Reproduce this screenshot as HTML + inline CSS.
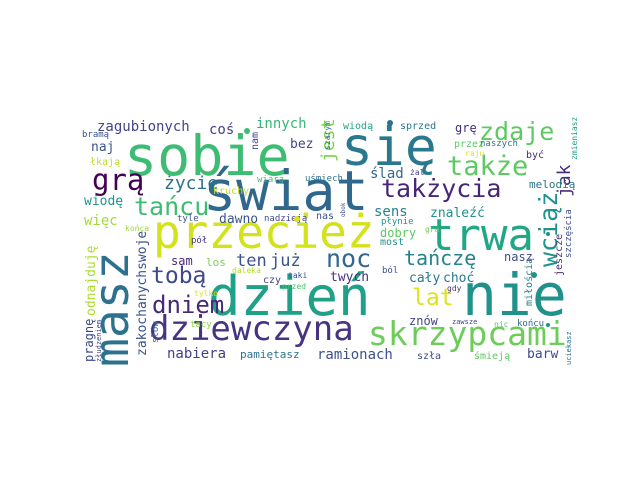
<!DOCTYPE html>
<html><head><meta charset="utf-8"><style>
html,body{margin:0;padding:0;background:#fff}
svg{display:block}
text{font-family:"DejaVu Sans Mono","Liberation Mono",monospace}
</style></head><body>
<svg width="640" height="480">
<rect width="640" height="480" fill="#fff"/>
<g id="words"></g>
</svg>
<script>
const words=[
["sobie",124,175,55,"#3fbc73",0],["się",341,165,53,"#2a788e",0],["świat",203,210,55,"#30678d",0],
["przecież",153,248,46,"#d2e21b",0],["trwa",428,250,44,"#22a785",0],["masz",128,367,48,"#2c728e",1],
["dzień",208,315,54,"#1fa187",0],["nie",462,315,58,"#21918c",0],["dziewczyna",149,340,34,"#463480",0],
["skrzypcami",368,345,33,"#6ccd5a",0],["takżycia",381,197,25,"#482576",0],["także",447,175,27,"#5ec962",0],
["zdaje",479,140,25,"#5ec962",0],["wciąż",557,267,25,"#20928c",1],["jak",570,197,18,"#472d7b",1],
["jest",334,162,18,"#7ad151",1],["grą",92,190,29,"#440154",0],["tańcu",134,215,25,"#3fbc73",0],
["życie",164,189,18,"#2c728e",0],["tobą",151,283,23,"#3e4989",0],["dniem",152,313,24,"#482878",0],
["ten",236,266,17,"#3b528b",0],["już",270,266,17,"#3b528b",0],["noc",326,267,25,"#31688e",0],
["tańczę",404,265,20,"#26828e",0],["lat",412,305,23,"#dde318",0],["zagubionych",97,131,14,"#404688",0],
["innych",256,128,14,"#35b779",0],["coś",209,134,14,"#424086",0],["naj",91,151,13,"#3b528b",0],
["bez",290,148,13,"#3e4a89",0],["łkają",90,165,10,"#bddf26",0],["bramą",82,137,9,"#3b528b",0],
["nam",258,150,10,"#404688",1],["wiarą",257,182,9,"#46c06f",0],["uśmiech",305,181,9,"#2d708e",0],
["kruchy",213,194,10,"#c2df23",0],["wiodę",84,205,13,"#21918c",0],["więc",84,225,14,"#a0da39",0],
["dawno",219,223,13,"#39558c",0],["tyle",177,221,9,"#3b528b",0],["nadzieją",264,221,9,"#3e4a89",0],
["końca",125,231,8,"#9dd93b",0],["odnajduję",95,316,13,"#addc30",1],["zakochanychswoje",146,356,13,"#3b528b",1],
["pragnę",93,362,12,"#3e4989",1],["złudzeniem",101,362,7,"#3e4989",1],["słów",158,343,9,"#2a788e",1],
["tacy",190,327,9,"#8bd646",0],["nabiera",167,358,14,"#424086",0],["pamiętasz",240,358,11,"#2c728e",0],
["ramionach",317,359,14,"#3b528b",0],["sam",171,265,12,"#482878",0],["los",206,266,11,"#7ad151",0],
["pół",191,243,9,"#46327e",0],["daleka",232,273,8,"#b5de2b",0],["czy",263,283,10,"#414487",0],
["taki",288,278,8,"#3e4a89",0],["przed",282,289,8,"#48c16e",0],["tylko",194,296,8,"#dde318",0],
["sens",374,216,14,"#26828e",0],["znaleźć",430,217,13,"#20928c",0],["ślad",370,178,14,"#31688e",0],
["żal",410,175,8,"#404688",0],["melodią",529,188,11,"#2c728e",0],["być",526,158,10,"#472d7b",0],
["raju",465,156,8,"#dde318",0],["przez",454,147,10,"#5ec962",0],["naszych",480,146,9,"#2a788e",0],
["grę",455,132,12,"#472d7b",0],["wiodą",343,129,10,"#20a486",0],["sprzed",400,129,10,"#2a788e",0],
["szarym",330,150,8,"#2c728e",1],["zmieniasz",577,160,8,"#1f9e89",1],["szczęścia",571,258,9,"#3b528b",1],
["jeszcze",562,276,10,"#472d7b",1],["nas",316,219,10,"#3b528b",0],["obok",345,217,6,"#3b528b",1],
["dobry",380,237,12,"#5ec962",0],["płynie",381,224,9,"#21918c",0],["gra",425,232,8,"#6ece58",0],
["most",380,245,10,"#21918c",0],["ból",382,273,9,"#3b528b",0],["twych",330,281,13,"#46337e",0],
["cały",409,282,13,"#2a788e",0],["choć",443,282,13,"#2a788e",0],["gdy",447,291,8,"#46327e",0],
["nasz",504,261,12,"#3e4a89",0],["miłością",532,306,10,"#26828e",1],["znów",409,325,12,"#404688",0],
["zawsze",452,324,7,"#404688",0],["nic",494,327,8,"#5ec962",0],["końcu",517,326,9,"#31688e",0],
["szła",417,359,10,"#3e4989",0],["śmieją",474,359,10,"#5ec962",0],["barw",527,358,13,"#3e4989",0],
["uciekasz",571,365,7,"#2c728e",1]
];
const g=document.getElementById('words');
const NS='http://www.w3.org/2000/svg';
for(const [w,x,y,s,c,r] of words){
  const t=document.createElementNS(NS,'text');
  t.setAttribute('x',x);t.setAttribute('y',y);
  t.setAttribute('font-size',s);t.setAttribute('fill',c);
  if(r)t.setAttribute('transform','rotate(-90 '+x+' '+y+')');
  t.textContent=w;
  
  
  g.appendChild(t);
}
const dots=[[390,123,3,"#2c728e"],[247,131,3,"#3fbc73"],[297,219,3,"#dde318"],[534,275,3,"#21918c"],[548,325,2,"#21918c"],[548,234,2,"#20928c"]];
for(const [x,y,r,c] of dots){
  const d=document.createElementNS(NS,'circle');
  d.setAttribute('cx',x);d.setAttribute('cy',y);d.setAttribute('r',r);d.setAttribute('fill',c);
  
  
  g.appendChild(d);
}
</script>
</body></html>
